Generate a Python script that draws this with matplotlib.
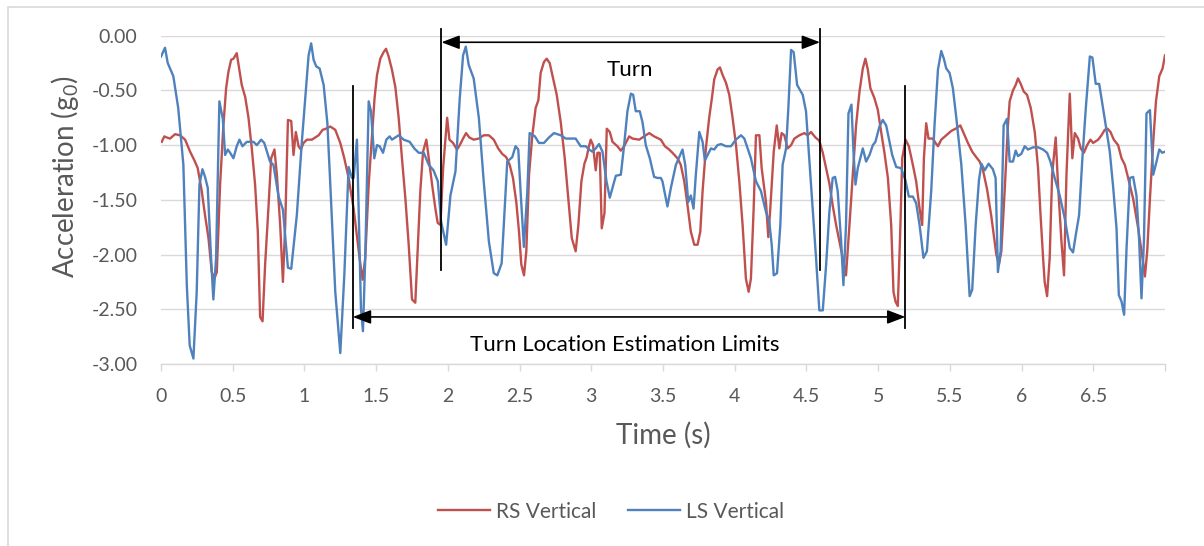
import matplotlib
matplotlib.use("Agg")
import matplotlib.pyplot as plt
from matplotlib.ticker import FormatStrFormatter, FuncFormatter, MultipleLocator
from matplotlib.patches import Rectangle

plt.rcParams['font.family'] = ['Lato', 'DejaVu Sans']
plt.rcParams['mathtext.default'] = 'regular'

# right shank vertical acceleration
rs_time = [0.005, 0.023, 0.040, 0.063, 0.098, 0.133, 0.168, 0.203, 0.233, 0.256, 0.284, 0.307, 0.331, 0.354, 0.372,
           0.389, 0.412, 0.435, 0.454, 0.470, 0.489, 0.505, 0.528, 0.545, 0.563, 0.587, 0.610, 0.633, 0.656, 0.675,
           0.691, 0.708, 0.726, 0.750, 0.768, 0.791, 0.808, 0.831, 0.850, 0.866, 0.885, 0.908, 0.924, 0.940, 0.959,
           0.975, 0.994, 1.017, 1.052, 1.075, 1.099, 1.127, 1.150, 1.180, 1.215, 1.250, 1.278, 1.308, 1.343, 1.371,
           1.390, 1.406, 1.424, 1.448, 1.471, 1.489, 1.506, 1.529, 1.552, 1.569, 1.587, 1.610, 1.634, 1.657, 1.680,
           1.704, 1.727, 1.750, 1.773, 1.792, 1.808, 1.827, 1.850, 1.867, 1.890, 1.913, 1.929, 1.948, 1.967, 1.983,
           1.995, 2.011, 2.036, 2.064, 2.083, 2.106, 2.127, 2.150, 2.180, 2.216, 2.250, 2.286, 2.320, 2.351, 2.379,
           2.407, 2.431, 2.454, 2.477, 2.496, 2.512, 2.531, 2.547, 2.566, 2.589, 2.612, 2.631, 2.647, 2.670, 2.689,
           2.710, 2.735, 2.759, 2.787, 2.815, 2.840, 2.864, 2.891, 2.910, 2.931, 2.952, 2.968, 2.980, 2.996, 3.012,
           3.031, 3.043, 3.059, 3.073, 3.092, 3.108, 3.129, 3.148, 3.182, 3.206, 3.229, 3.264, 3.287, 3.334, 3.368,
           3.404, 3.438, 3.485, 3.513, 3.543, 3.566, 3.601, 3.624, 3.648, 3.671, 3.694, 3.718, 3.741, 3.760, 3.776,
           3.799, 3.822, 3.841, 3.857, 3.880, 3.897, 3.916, 3.939, 3.962, 3.985, 4.009, 4.032, 4.055, 4.078, 4.097,
           4.113, 4.132, 4.148, 4.172, 4.188, 4.218, 4.234, 4.248, 4.272, 4.293, 4.311, 4.327, 4.346, 4.369, 4.393,
           4.416, 4.451, 4.486, 4.509, 4.532, 4.563, 4.590, 4.614, 4.637, 4.660, 4.683, 4.707, 4.730, 4.753, 4.776,
           4.800, 4.823, 4.846, 4.870, 4.893, 4.911, 4.928, 4.946, 4.974, 4.998, 5.021, 5.044, 5.068, 5.091, 5.107,
           5.121, 5.137, 5.154, 5.168, 5.191, 5.214, 5.242, 5.265, 5.289, 5.307, 5.319, 5.335, 5.351, 5.382, 5.400,
           5.417, 5.440, 5.475, 5.510, 5.540, 5.573, 5.596, 5.626, 5.656, 5.684, 5.708, 5.731, 5.759, 5.789, 5.824,
           5.842, 5.859, 5.882, 5.905, 5.917, 5.940, 5.959, 5.975, 5.994, 6.015, 6.038, 6.064, 6.092, 6.115, 6.131,
           6.150, 6.161, 6.178, 6.196, 6.213, 6.238, 6.254, 6.278, 6.296, 6.313, 6.336, 6.354, 6.371, 6.394, 6.413,
           6.434, 6.457, 6.480, 6.499, 6.534, 6.557, 6.580, 6.599, 6.620, 6.643, 6.673, 6.697, 6.720, 6.743, 6.778,
           6.813, 6.843, 6.860, 6.876, 6.895, 6.918, 6.937, 6.960, 6.983, 7.000]
rs_vertical = [-0.97, -0.92, -0.93, -0.94, -0.90, -0.91, -0.95, -1.06, -1.14, -1.21, -1.42, -1.64, -1.85, -2.16, -2.22,
               -2.16, -1.36, -0.82, -0.48, -0.33, -0.22, -0.21, -0.16, -0.30, -0.45, -0.56, -0.75, -1.03, -1.36, -1.79,
               -2.57, -2.61, -2.09, -1.55, -1.12, -1.04, -1.27, -1.73, -2.25, -1.73, -0.77, -0.78, -1.09, -0.88, -1.01,
               -1.04, -0.98, -0.95, -0.95, -0.93, -0.91, -0.86, -0.85, -0.83, -0.86, -0.98, -1.12, -1.30, -1.58, -1.88,
               -2.09, -2.23, -2.03, -1.36, -0.91, -0.57, -0.36, -0.21, -0.15, -0.12, -0.19, -0.31, -0.47, -0.75, -1.12,
               -1.49, -1.91, -2.41, -2.44, -1.88, -1.42, -1.06, -0.95, -1.12, -1.36, -1.58, -1.71, -1.73, -1.21, -0.94,
               -0.75, -0.95, -0.98, -1.04, -1.00, -0.94, -0.89, -0.93, -0.95, -0.94, -0.91, -0.91, -0.95, -1.03, -1.08,
               -1.11, -1.18, -1.30, -1.52, -1.79, -2.09, -2.19, -1.97, -1.27, -0.91, -0.66, -0.59, -0.34, -0.24, -0.21,
               -0.25, -0.40, -0.54, -0.79, -1.12, -1.49, -1.85, -1.97, -1.73, -1.33, -1.17, -1.11, -1.03, -0.95, -1.00,
               -1.23, -1.07, -1.07, -1.76, -1.62, -0.85, -0.88, -0.97, -1.01, -1.05, -1.01, -0.92, -0.94, -0.95, -0.92,
               -0.89, -0.92, -0.95, -1.01, -1.04, -1.07, -1.12, -1.18, -1.33, -1.55, -1.79, -1.91, -1.91, -1.79, -1.42,
               -1.03, -0.75, -0.57, -0.40, -0.31, -0.29, -0.36, -0.43, -0.54, -0.75, -1.00, -1.33, -1.73, -2.22, -2.34,
               -2.22, -1.58, -0.91, -0.91, -1.21, -1.52, -1.84, -1.58, -1.06, -0.82, -1.03, -0.89, -0.91, -1.03, -1.00,
               -0.94, -0.91, -0.89, -0.91, -0.88, -0.93, -0.96, -1.07, -1.21, -1.35, -1.55, -1.73, -1.88, -2.03, -2.19,
               -1.73, -1.27, -0.82, -0.51, -0.30, -0.21, -0.31, -0.48, -0.57, -0.68, -0.88, -1.07, -1.30, -1.73, -2.34,
               -2.43, -2.47, -1.79, -1.12, -0.95, -1.01, -1.18, -1.33, -1.58, -1.73, -1.12, -0.80, -0.94, -0.94, -0.98,
               -1.01, -0.95, -0.91, -0.87, -0.85, -0.82, -0.89, -0.98, -1.06, -1.11, -1.15, -1.23, -1.40, -1.65, -2.00,
               -2.09, -1.97, -1.42, -0.82, -0.60, -0.50, -0.45, -0.39, -0.44, -0.51, -0.54, -0.66, -0.88, -1.21, -1.61,
               -2.03, -2.25, -2.38, -2.03, -1.27, -0.93, -1.36, -1.88, -2.19, -1.27, -0.53, -1.12, -0.89, -0.94, -1.03,
               -1.07, -1.00, -0.95, -0.98, -0.95, -0.91, -0.86, -0.85, -0.88, -0.95, -1.00, -1.12, -1.18, -1.30, -1.49,
               -1.76, -2.03, -2.20, -1.97, -1.49, -0.97, -0.60, -0.37, -0.30, -0.18]

# left shank vertical acceleration
ls_time = [0.000, 0.028, 0.047, 0.086, 0.120, 0.156, 0.180, 0.200, 0.226, 0.249, 0.268, 0.289, 0.307, 0.326, 0.349,
           0.365, 0.384, 0.407, 0.431, 0.447, 0.466, 0.482, 0.505, 0.528, 0.547, 0.568, 0.598, 0.645, 0.668, 0.698,
           0.720, 0.760, 0.784, 0.820, 0.850, 0.885, 0.908, 0.947, 0.982, 1.006, 1.029, 1.047, 1.064, 1.082, 1.106,
           1.134, 1.160, 1.180, 1.215, 1.250, 1.278, 1.308, 1.331, 1.343, 1.366, 1.378, 1.394, 1.408, 1.424, 1.448,
           1.464, 1.487, 1.506, 1.524, 1.548, 1.571, 1.594, 1.610, 1.657, 1.692, 1.734, 1.766, 1.797, 1.832, 1.867,
           1.900, 1.930, 1.953, 1.988, 2.018, 2.053, 2.083, 2.106, 2.125, 2.146, 2.180, 2.216, 2.250, 2.286, 2.320,
           2.345, 2.375, 2.390, 2.414, 2.449, 2.472, 2.491, 2.507, 2.530, 2.554, 2.570, 2.607, 2.635, 2.670, 2.705,
           2.740, 2.787, 2.822, 2.891, 2.926, 2.961, 2.985, 3.008, 3.031, 3.054, 3.078, 3.106, 3.129, 3.148, 3.171,
           3.206, 3.229, 3.252, 3.276, 3.292, 3.310, 3.338, 3.357, 3.380, 3.408, 3.438, 3.462, 3.485, 3.496, 3.531,
           3.555, 3.590, 3.613, 3.636, 3.655, 3.676, 3.694, 3.713, 3.729, 3.753, 3.776, 3.792, 3.811, 3.834, 3.857,
           3.880, 3.904, 3.939, 3.974, 4.008, 4.044, 4.067, 4.090, 4.113, 4.148, 4.183, 4.218, 4.241, 4.258, 4.272,
           4.295, 4.318, 4.334, 4.358, 4.374, 4.393, 4.411, 4.435, 4.474, 4.497, 4.532, 4.567, 4.590, 4.614, 4.637,
           4.660, 4.683, 4.700, 4.718, 4.742, 4.758, 4.776, 4.793, 4.814, 4.828, 4.842, 4.858, 4.893, 4.916, 4.940,
           4.963, 4.981, 5.009, 5.032, 5.056, 5.079, 5.098, 5.126, 5.160, 5.190, 5.214, 5.242, 5.265, 5.289, 5.316,
           5.340, 5.370, 5.393, 5.417, 5.440, 5.458, 5.475, 5.498, 5.521, 5.545, 5.580, 5.610, 5.638, 5.656, 5.680,
           5.703, 5.720, 5.743, 5.770, 5.800, 5.819, 5.835, 5.854, 5.875, 5.898, 5.917, 5.940, 5.959, 5.975, 5.998,
           6.022, 6.045, 6.080, 6.115, 6.150, 6.178, 6.201, 6.231, 6.266, 6.301, 6.336, 6.359, 6.378, 6.401, 6.424,
           6.448, 6.476, 6.494, 6.517, 6.541, 6.564, 6.587, 6.615, 6.639, 6.662, 6.678, 6.697, 6.715, 6.732, 6.755,
           6.778, 6.801, 6.820, 6.836, 6.853, 6.871, 6.895, 6.918, 6.941, 6.960, 6.981, 7.000]
ls_vertical = [-0.19, -0.11, -0.25, -0.37, -0.66, -1.18, -2.28, -2.83, -2.95, -2.34, -1.36, -1.22, -1.29, -1.39, -2.03,
               -2.41, -2.03, -0.60, -0.76, -1.09, -1.04, -1.07, -1.12, -1.01, -0.95, -1.01, -0.97, -0.97, -1.00, -0.95,
               -0.98, -1.15, -1.18, -1.47, -1.59, -2.12, -2.13, -1.64, -0.97, -0.57, -0.18, -0.07, -0.22, -0.28, -0.30,
               -0.45, -0.80, -1.35, -2.34, -2.90, -2.19, -1.20, -1.30, -1.30, -0.95, -1.58, -2.49, -2.70, -2.03, -0.60,
               -0.69, -1.12, -1.00, -1.01, -1.07, -0.95, -0.92, -0.95, -0.91, -0.95, -0.97, -1.03, -1.07, -1.07, -1.18,
               -1.23, -1.33, -1.70, -1.91, -1.46, -1.24, -0.57, -0.18, -0.10, -0.27, -0.39, -0.75, -1.33, -1.88, -2.17,
               -2.19, -2.08, -1.73, -1.15, -1.11, -1.01, -1.04, -1.42, -1.93, -1.42, -0.89, -0.92, -0.98, -0.98, -0.93,
               -0.89, -0.91, -0.94, -0.94, -1.01, -1.01, -1.04, -1.06, -1.03, -0.99, -1.06, -1.33, -1.48, -1.39, -1.28,
               -1.27, -1.00, -0.69, -0.53, -0.54, -0.69, -0.69, -0.79, -1.00, -1.12, -1.29, -1.30, -1.30, -1.33, -1.56,
               -1.39, -1.18, -1.11, -1.04, -1.18, -1.52, -1.46, -1.58, -1.27, -0.88, -0.97, -1.14, -1.09, -1.03, -1.04,
               -1.00, -0.99, -1.01, -1.01, -0.95, -0.91, -0.94, -1.03, -1.12, -1.33, -1.42, -1.61, -1.70, -1.91, -2.19,
               -2.17, -1.73, -1.18, -1.03, -0.66, -0.13, -0.15, -0.45, -0.54, -0.69, -1.36, -2.03, -2.51, -2.51, -2.10,
               -1.61, -1.30, -1.29, -1.42, -1.88, -2.28, -1.73, -0.71, -0.63, -1.06, -1.36, -1.21, -1.03, -1.15, -1.09,
               -1.00, -0.97, -0.83, -0.77, -0.82, -0.97, -1.09, -1.20, -1.21, -1.32, -1.47, -1.47, -1.53, -1.73, -2.03,
               -1.97, -1.42, -0.82, -0.31, -0.14, -0.21, -0.30, -0.34, -0.48, -0.75, -1.18, -1.73, -2.38, -2.32, -1.73,
               -1.32, -1.17, -1.23, -1.17, -1.22, -1.30, -2.16, -1.97, -0.82, -0.76, -1.15, -1.15, -1.05, -1.10, -1.08,
               -1.01, -1.04, -1.02, -1.02, -1.04, -1.07, -1.15, -1.30, -1.46, -1.67, -1.94, -1.98, -1.82, -1.64, -1.12,
               -0.66, -0.19, -0.20, -0.44, -0.44, -0.63, -0.82, -1.06, -1.39, -1.76, -2.37, -2.43, -2.55, -1.94, -1.30,
               -1.29, -1.46, -1.88, -2.40, -1.88, -0.71, -0.68, -1.27, -1.15, -1.04, -1.07, -1.06]

turn_limits = [1.955, 4.595]
estimation_limits = [1.337, 5.19]

grey = '#595959'
grid_grey = '#d9d9d9'

fig = plt.figure(figsize=(12.04, 5.46), dpi=100)
ax = fig.add_axes([161 / 1204, 1 - 364 / 546, 1004 / 1204, (364 - 35.7) / 546])

ax.plot(rs_time, rs_vertical, color='#C0504D', lw=1.7, label='RS Vertical')
ax.plot(ls_time, ls_vertical, color='#4F81BD', lw=1.7, label='LS Vertical')

ax.set_xlim(0, 7)
ax.set_ylim(-3, 0)
ax.xaxis.set_major_locator(MultipleLocator(0.5))
ax.yaxis.set_major_locator(MultipleLocator(0.5))
# last tick (7) has no label in the original
ax.xaxis.set_major_formatter(FuncFormatter(lambda v, p: '' if v > 6.9 else '%g' % v))
ax.yaxis.set_major_formatter(FormatStrFormatter('%.2f'))
ax.grid(axis='y', color=grid_grey, lw=1)
ax.set_axisbelow(True)
for s in ['top', 'right', 'left']:
    ax.spines[s].set_visible(False)
ax.spines['bottom'].set_color(grid_grey)
ax.spines['bottom'].set_linewidth(1)
ax.tick_params(axis='x', colors=grid_grey, labelcolor=grey, length=5, width=1, labelsize=14, pad=12.5)
ax.tick_params(axis='y', length=0, labelcolor=grey, labelsize=14, pad=17)

ax.set_xlabel('Time (s)', fontsize=20, color=grey, labelpad=12)
ax.set_ylabel('Acceleration (g$_0$)', fontsize=20, color=grey)
ax.yaxis.set_label_coords(-0.080, 0.57)

# turn markers
arrow_kw = dict(arrowstyle='<|-|>,head_length=1.1,head_width=0.42', color='black', lw=1.2,
                shrinkA=0, shrinkB=0)
for t in turn_limits:
    ax.plot([t, t], [0.06, -2.14], color='black', lw=1.3, clip_on=False)
ax.annotate('', xy=(turn_limits[0], -0.06), xytext=(turn_limits[1], -0.06),
            arrowprops=arrow_kw, annotation_clip=False)
ax.text(3.27, -0.31, 'Turn', fontsize=16, color='black', ha='center', va='center')

for t in estimation_limits:
    ax.plot([t, t], [-0.46, -2.67], color='black', lw=1.3, clip_on=False)
ax.annotate('', xy=(estimation_limits[0], -2.57), xytext=(estimation_limits[1], -2.57),
            arrowprops=arrow_kw, annotation_clip=False)
ax.text(3.23, -2.83, 'Turn Location Estimation Limits', fontsize=16, color='black',
        ha='center', va='center')

leg = fig.legend(loc='center', bbox_to_anchor=(611 / 1204, 1 - 511.7 / 546), ncol=2, frameon=False,
                 fontsize=15, handlelength=2.5, handletextpad=0.3, columnspacing=1.5)
for txt in leg.get_texts():
    txt.set_color(grey)

fig.patches.append(Rectangle((8 / 1204, -0.1), 1.2, 1.1 - 7 / 546, transform=fig.transFigure,
                             fill=False, edgecolor=grid_grey, lw=1.2))

fig.savefig('out.png', dpi=100)
